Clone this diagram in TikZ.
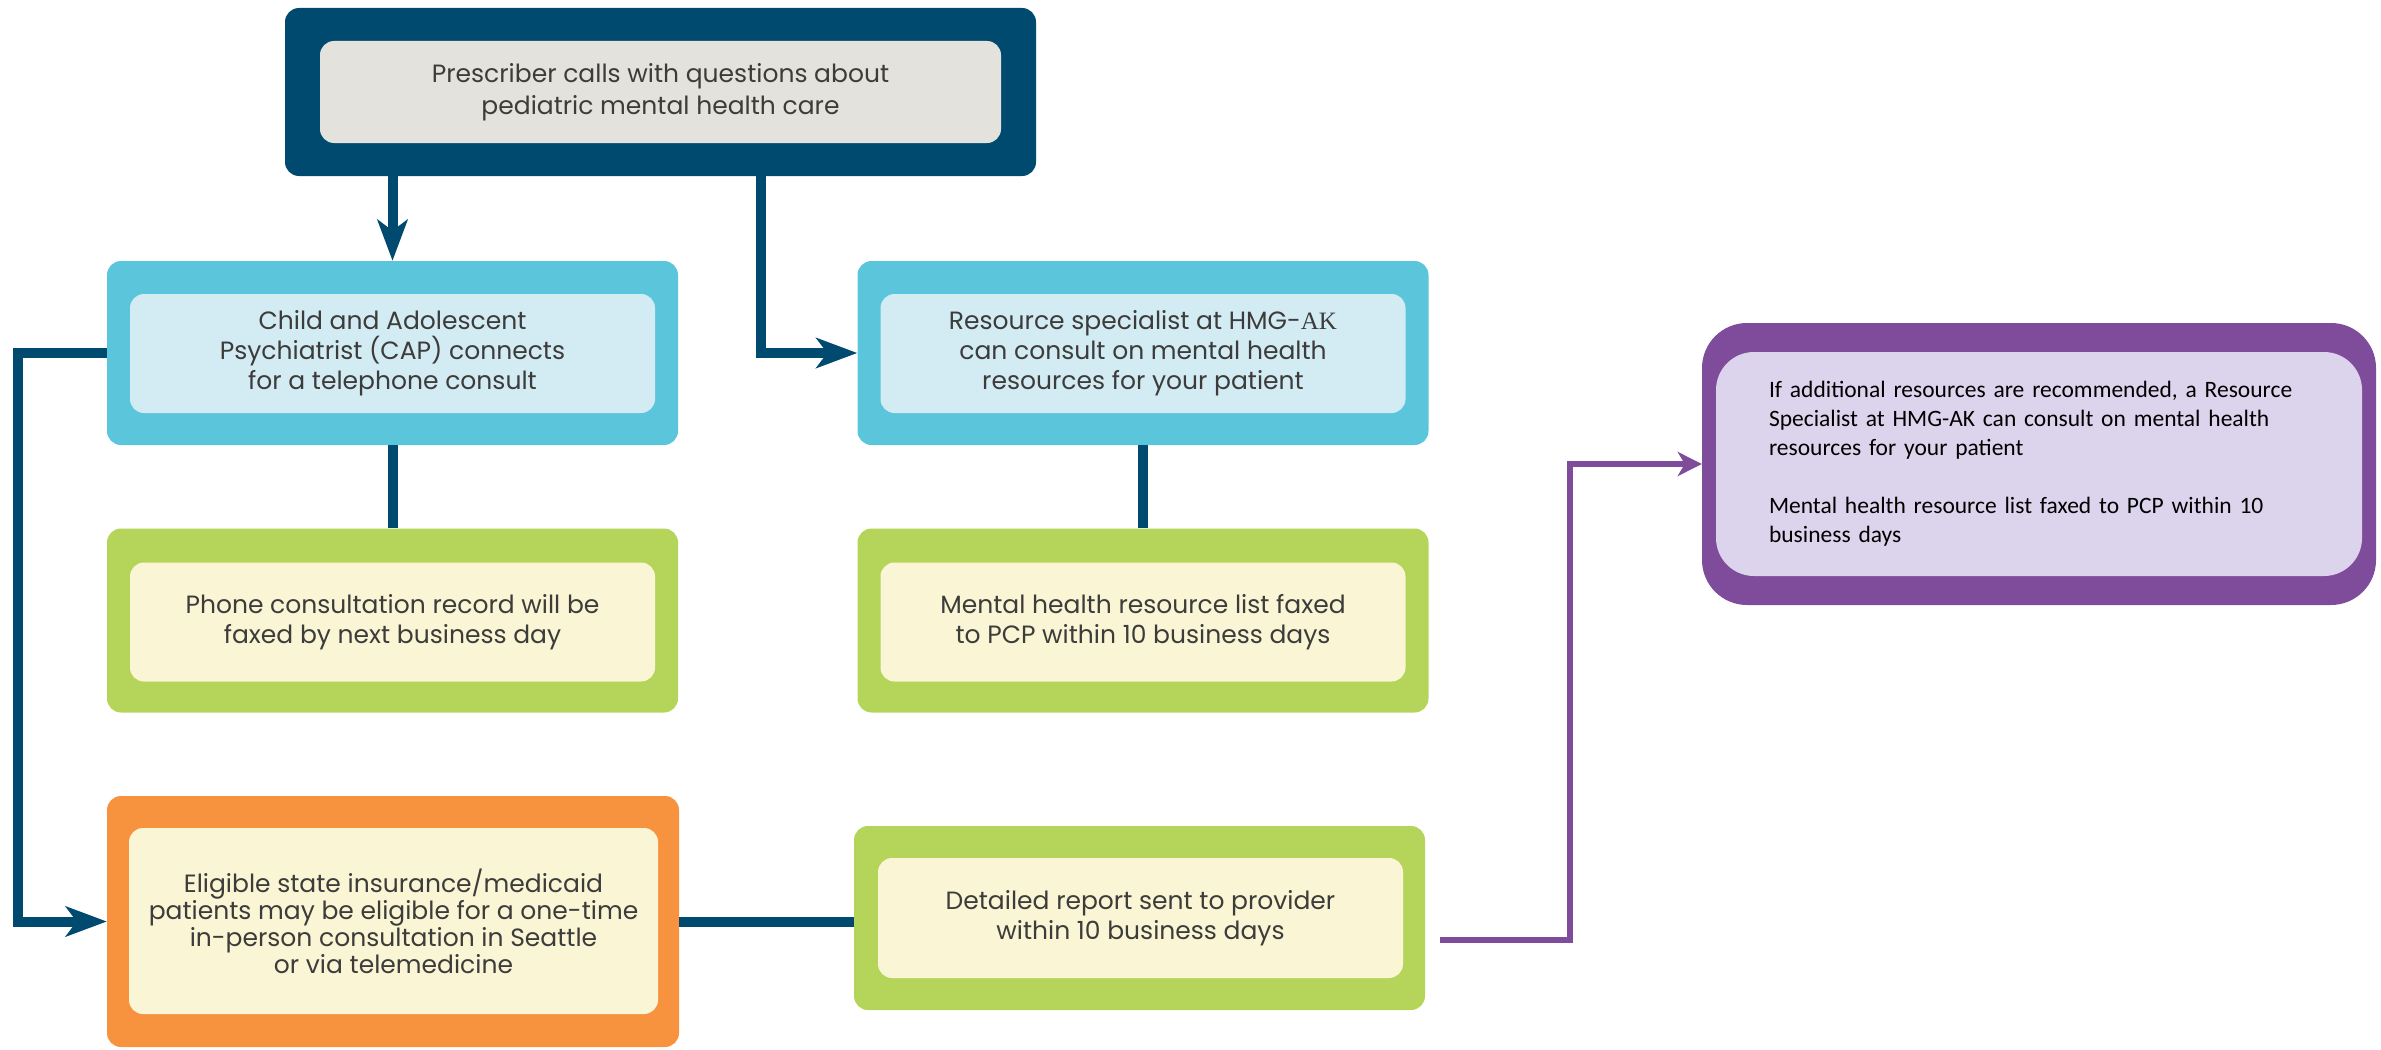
\documentclass[tikz,border=0pt]{standalone}
\usepackage{fontspec}
\setmainfont{Poppins}
\newfontfamily\calibrifont{Carlito}
\newfontfamily\akfont{Liberation Serif}
\usepackage{xcolor}
\usetikzlibrary{arrows.meta}

\definecolor{navy}{HTML}{004A70}
\definecolor{boxgrey}{HTML}{E4E2DD}
\definecolor{cyanout}{HTML}{5BC5DC}
\definecolor{cyanin}{HTML}{D3EBF2}
\definecolor{greenout}{HTML}{B5D55A}
\definecolor{cream}{HTML}{FAF5D4}
\definecolor{orangeout}{HTML}{F7923F}
\definecolor{purpleout}{HTML}{7F4B9B}
\definecolor{lavender}{HTML}{DCD4EC}
\definecolor{textgrey}{HTML}{3C3C3B}

\newcommand\tightfont{\fontsize{25}{27}\selectfont\lineskiplimit=-20pt\relax}

\begin{document}
\begin{tikzpicture}
  [x=1pt, y=-1pt,
    outerbox/.style={rounded corners=14pt, minimum width=571pt, minimum height=184pt, inner sep=0pt},
    innerbox/.style={rounded corners=14pt, minimum width=525pt, minimum height=119pt, inner sep=0pt,
      align=center, text=textgrey, font=\fontsize{25}{30}\selectfont},
    link/.style={navy, line width=10pt},
    linkarrow/.style={link, -{Stealth[length=41pt, width=30pt, inset=11pt]}},
    purplelink/.style={purpleout, line width=6pt, -{Stealth[length=24pt, width=24pt, inset=7pt]}}]
  \useasboundingbox (0,0) rectangle (2381,1049);

  % top
  \node[outerbox, fill=navy, minimum width=751pt, minimum height=168pt] (topbox) at (660.5,92) {};
  \node[innerbox, fill=boxgrey, minimum width=681pt, minimum height=102pt,
    font=\fontsize{25}{32}\selectfont] (toptext) at (660.5,92)
    {Prescriber calls with questions about\\pediatric mental health care};

  % second row
  \node[outerbox, fill=cyanout] (capbox) at (392.5,353) {};
  \node[innerbox, fill=cyanin] (captext) at (392.5,353.5)
    {Child and Adolescent\\Psychiatrist (CAP) connects\\for a telephone consult};
  \node[outerbox, fill=cyanout] (resbox) at (1143,353) {};
  \node[innerbox, fill=cyanin] (restext) at (1143,353.5)
    {Resource specialist at HMG-{\akfont AK}\\can consult on mental health\\resources for your patient};

  % third row
  \node[outerbox, fill=greenout] (phonebox) at (392.5,620.5) {};
  \node[innerbox, fill=cream] (phonetext) at (392.5,622)
    {Phone consultation record will be\\faxed by next business day};
  \node[outerbox, fill=greenout] (listbox) at (1143,620.5) {};
  \node[innerbox, fill=cream] (listtext) at (1143,622)
    {Mental health resource list faxed\\to PCP within 10 business days};

  % bottom row
  \node[outerbox, fill=orangeout, minimum width=572pt, minimum height=251pt] (orangebox) at (393,921.5) {};
  \node[innerbox, fill=cream, minimum width=529pt, minimum height=186pt, font=\tightfont] (orangetext) at (393.5,921)
    {Eligible state insurance/medicaid\\patients may be eligible for a one-time\\in-person consultation in Seattle\\or via telemedicine};
  \node[outerbox, fill=greenout] (reportbox) at (1139.5,918) {};
  \node[innerbox, fill=cream, minimum height=120pt] (reporttext) at (1140.5,918)
    {Detailed report sent to provider\\within 10 business days};

  % purple box
  \node[outerbox, rounded corners=45pt, fill=purpleout, minimum width=674pt, minimum height=282pt] (purplebox) at (2039,464) {};
  \node[innerbox, rounded corners=38pt, fill=lavender, minimum width=646pt, minimum height=224pt,
    text width=540pt, align=left, text=black, font=\calibrifont\fontsize{23.5}{29}\selectfont] (purpletext) at (2039,464)
    {If additional resources are recommended, a Resource\\Specialist at HMG-AK can consult on mental health\\resources for your patient\\[29pt]
     Mental health resource list faxed to PCP within 10\\business days};

  % connectors
  \draw[linkarrow] (capbox.north |- topbox.south) -- (capbox.north);
  \draw[linkarrow] ([xshift=100pt]topbox.south) |- (resbox.west);
  \draw[link] (capbox.south) -- (phonebox.north);
  \draw[link] (resbox.south) -- (listbox.north);
  \draw[linkarrow] (capbox.west) -- ++(-89,0) |- (orangebox.west);
  \draw[link] (orangebox.east) -- (orangebox.east -| reportbox.west);
  \draw[purplelink] ([xshift=15pt,yshift=-22pt]reportbox.east) -- ++(130,0) |- (purplebox.west);
\end{tikzpicture}
\end{document}
